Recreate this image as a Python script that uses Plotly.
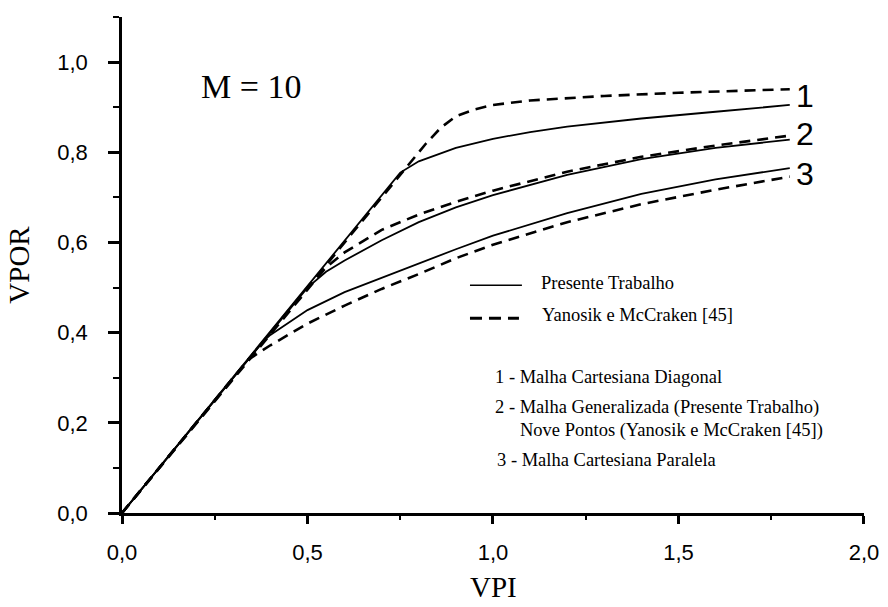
import plotly.graph_objects as go

# ---- data ----
vpi_s1 = [0.0, 0.75, 0.8, 0.9, 1.0, 1.1, 1.2, 1.4, 1.6, 1.8]
vpor_s1 = [0.0, 0.755, 0.78, 0.81, 0.83, 0.845, 0.857, 0.875, 0.89, 0.905]
vpi_d1 = [0.0, 0.78, 0.82, 0.86, 0.9, 0.95, 1.0, 1.1, 1.3, 1.5, 1.7, 1.8]
vpor_d1 = [0.0, 0.78, 0.82, 0.855, 0.88, 0.895, 0.905, 0.915, 0.925, 0.932, 0.938, 0.94]

vpi_s2 = [0.0, 0.5, 0.55, 0.6, 0.7, 0.8, 0.9, 1.0, 1.2, 1.4, 1.6, 1.8]
vpor_s2 = [0.0, 0.5, 0.535, 0.56, 0.605, 0.645, 0.678, 0.705, 0.75, 0.785, 0.81, 0.828]
vpi_d2 = [0.0, 0.55, 0.6, 0.7, 0.8, 0.9, 1.0, 1.2, 1.4, 1.6, 1.8]
vpor_d2 = [0.0, 0.545, 0.578, 0.628, 0.662, 0.69, 0.715, 0.757, 0.79, 0.815, 0.837]

vpi_s3 = [0.0, 0.38, 0.4, 0.5, 0.6, 0.7, 0.8, 0.9, 1.0, 1.2, 1.4, 1.6, 1.8]
vpor_s3 = [0.0, 0.38, 0.395, 0.45, 0.49, 0.522, 0.553, 0.585, 0.615, 0.665, 0.708, 0.74, 0.765]
vpi_d3 = [0.0, 0.34, 0.4, 0.5, 0.6, 0.7, 0.8, 0.9, 1.0, 1.2, 1.4, 1.6, 1.8]
vpor_d3 = [0.0, 0.34, 0.372, 0.42, 0.46, 0.497, 0.53, 0.565, 0.595, 0.645, 0.685, 0.717, 0.746]

curve_labels = ["1", "2", "3"]
curve_label_y = [0.925, 0.84, 0.752]

x_ticks = [0.0, 0.5, 1.0, 1.5, 2.0]
y_ticks = [0.0, 0.2, 0.4, 0.6, 0.8, 1.0]

x_title = "VPI"
y_title = "VPOR"
legend_texts = ["Presente Trabalho", "Yanosik e McCraken [45]"]
note_texts = [
    "1 - Malha Cartesiana Diagonal",
    "2 - Malha Generalizada (Presente Trabalho)",
    "Nove Pontos (Yanosik e McCraken [45])",
    "3 - Malha Cartesiana Paralela",
]

SERIF = "Liberation Serif, Times New Roman, serif"
SANS = "Liberation Sans, Arial, sans-serif"
NARROW = "Liberation Sans Narrow, Arial Narrow, Liberation Sans, sans-serif"

solid = dict(color="black", width=1.8)
dashed = dict(color="black", width=2.6, dash="11px,7px")

fig = go.Figure()
for xs, ys, ln in [
    (vpi_s1, vpor_s1, solid), (vpi_d1, vpor_d1, dashed),
    (vpi_s2, vpor_s2, solid), (vpi_d2, vpor_d2, dashed),
    (vpi_s3, vpor_s3, solid), (vpi_d3, vpor_d3, dashed),
]:
    fig.add_trace(go.Scatter(x=xs, y=ys, mode="lines", line=ln, showlegend=False,
                             hoverinfo="skip"))

fig.update_layout(
    width=888, height=607,
    margin=dict(l=122, r=24, t=17, b=94),
    paper_bgcolor="white", plot_bgcolor="white",
    separators=", ",
    showlegend=False,
)

fig.update_xaxes(
    range=[0, 2.0001], tickvals=x_ticks, tickformat=".1f",
    showgrid=False, zeroline=False, automargin=False,
    showline=True, linecolor="black", linewidth=2.5,
    ticks="outside", ticklen=8, tickwidth=2.5, tickcolor="black",
    minor=dict(ticks="outside", dtick=0.25, ticklen=4, tickwidth=2, tickcolor="black"),
    tickfont=dict(family=SANS, size=22, color="black"),
    ticklabelstandoff=10,
)
fig.update_yaxes(
    range=[0, 1.1001], tickvals=y_ticks, tickformat=".1f",
    showgrid=False, zeroline=False, automargin=False,
    showline=True, linecolor="black", linewidth=2.5,
    ticks="outside", ticklen=11, tickwidth=2.5, tickcolor="black",
    minor=dict(ticks="outside", dtick=0.1, ticklen=6, tickwidth=2, tickcolor="black"),
    tickfont=dict(family=SANS, size=22, color="black"),
    ticklabelstandoff=16,
    title=dict(text=y_title, font=dict(family=SERIF, size=29, color="black"), standoff=20),
)

# x-axis title placed below the tick labels, kept inside the canvas
fig.add_annotation(x=0.5, y=-0.185, xref="paper", yref="paper", text=x_title, showarrow=False,
                   yanchor="bottom", font=dict(family=SERIF, size=29, color="black"))

# M = 10
fig.add_annotation(x=0.348, y=0.945, xref="x", yref="y", text="M = 10", showarrow=False,
                   font=dict(family=SERIF, size=34, color="black"))

# curve numbers
for lab, yv in zip(curve_labels, curve_label_y):
    fig.add_annotation(x=1.812, y=yv, xref="x", yref="y", text=lab, showarrow=False,
                       xanchor="left", font=dict(family=NARROW, size=32, color="black"))

# legend samples
fig.add_shape(type="line", x0=0.938, x1=1.078, y0=0.505, y1=0.505, xref="x", yref="y",
              line=dict(color="black", width=1.5))
fig.add_shape(type="line", x0=0.938, x1=1.07, y0=0.432, y1=0.432, xref="x", yref="y",
              line=dict(color="black", width=3, dash="12px,7px"))
fig.add_annotation(x=1.124, y=0.51, xref="x", yref="y", text=legend_texts[0], showarrow=False,
                   xanchor="left", font=dict(family=SERIF, size=18.5, color="black"))
fig.add_annotation(x=1.127, y=0.439, xref="x", yref="y", text=legend_texts[1], showarrow=False,
                   xanchor="left", font=dict(family=SERIF, size=18.5, color="black"))

note_pos = [(1.0, 0.301), (1.0, 0.233), (1.067, 0.184), (1.005, 0.117)]
for t, (xx, yy) in zip(note_texts, note_pos):
    fig.add_annotation(x=xx, y=yy, xref="x", yref="y", text=t, showarrow=False,
                       xanchor="left", font=dict(family=SERIF, size=18.5, color="black"))

fig.write_html("out.html")
